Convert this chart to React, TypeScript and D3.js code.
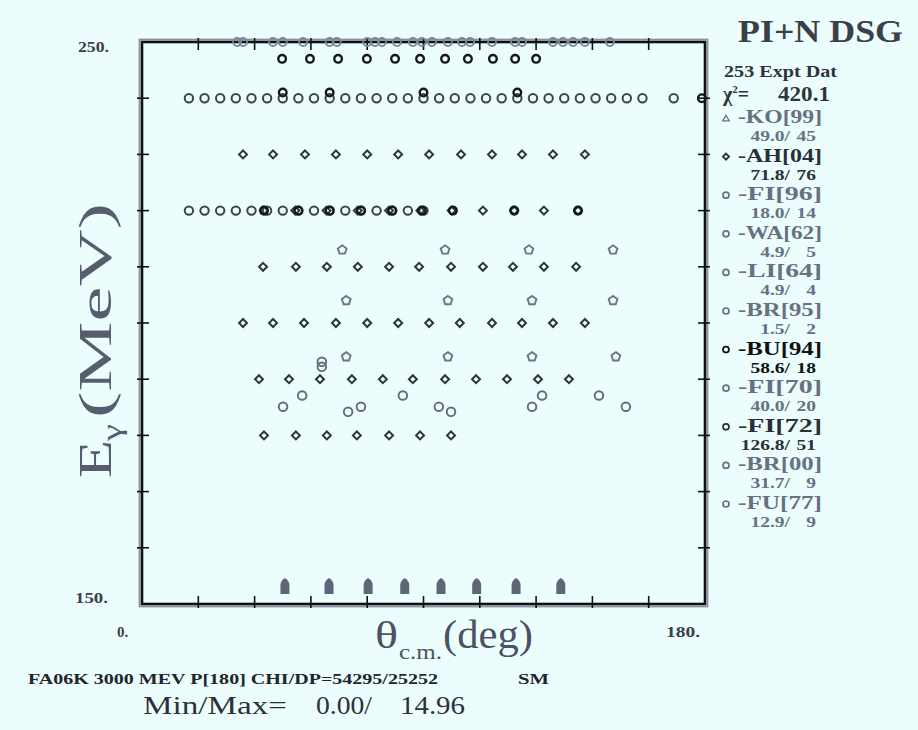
import React from "react";
import * as d3 from "d3";

const W = 918;
const H = 730;

// ---- data: [angle (deg), energy (MeV)] ----
const topRowAngles = [30.4, 32.3, 41.9, 45.0, 51.5, 60.0, 62.3, 72.0, 74.5, 76.7, 81.5, 86.6, 89.5, 92.7, 97.8, 102.3, 104.9, 111.9, 119.3, 121.5, 131.4, 134.6, 137.8, 141.6, 149.6];
const topRowEnergy = 250;

const bu94: [number, number][] = [
  [44.8, 247], [53.7, 247], [62.7, 247], [71.9, 247], [80.9, 247], [88.9, 247], [96.9, 247], [104.2, 247], [112.2, 247], [119.3, 247], [126.0, 247],
  [45, 241], [60, 241], [90, 241], [120, 241],
  [179, 240],
  [39, 220], [50, 220], [60, 220], [70, 220], [80, 220], [89.5, 220], [99.4, 220], [119, 220], [139.4, 220],
];

const fi72: [number, number][] = [
  [15, 240], [20, 240], [25, 240], [30, 240], [35, 240], [40, 240], [45, 240], [50, 240], [55, 240], [60, 240], [65, 240], [70, 240], [75, 240], [80, 240], [85, 240], [90, 240],
  [95, 240], [100, 240], [105, 240], [110, 240], [115, 240], [120, 240], [125, 240], [130, 240], [135, 240], [140, 240], [145, 240], [150, 240], [155, 240], [160, 240], [170, 240],
  [15, 220], [20, 220], [25, 220], [30, 220], [35, 220], [40, 220], [45, 220], [50, 220], [55, 220], [60, 220], [65, 220], [70, 220], [75, 220], [80, 220], [85, 220], [90, 220],
];

const ah04: [number, number][] = [
  [32.3, 230], [41.9, 230], [52.1, 230], [62.0, 230], [72.0, 230], [81.9, 230], [91.8, 230], [102.0, 230], [111.9, 230], [121.5, 230], [131.4, 230], [141.6, 230],
  [39, 220], [49, 220], [59, 220], [69, 220], [79, 220], [89, 220], [99, 220], [109, 220], [119, 220], [128.5, 220], [139.4, 220],
  [38.7, 210], [49.2, 210], [59.1, 210], [69.0, 210], [79.0, 210], [88.6, 210], [98.8, 210], [109.0, 210], [118.6, 210], [128.5, 210], [138.8, 210],
  [32.3, 200], [41.9, 200], [51.8, 200], [62.0, 200], [72.0, 200], [81.9, 200], [91.8, 200], [101.6, 200], [111.9, 200], [121.5, 200], [131.4, 200], [141.6, 200],
  [37.4, 190], [47.0, 190], [56.9, 190], [67.1, 190], [77.0, 190], [86.6, 190], [96.9, 190], [106.8, 190], [116.7, 190], [126.6, 190], [136.5, 190],
  [39.0, 180], [49.2, 180], [59.1, 180], [68.7, 180], [79.0, 180], [88.9, 180], [98.8, 180],
];

const waLiBr: [number, number][] = [
  [64.0, 213], [96.9, 213], [123.7, 213], [150.6, 213],
  [65.3, 204], [97.8, 204], [124.7, 204], [150.6, 204],
  [65.3, 194], [97.8, 194], [124.7, 194], [151.5, 194],
];

const fiBrFu: [number, number][] = [
  [57.5, 193.1], [57.5, 192.2], [51.2, 187.1], [45.1, 185.1], [65.9, 184.2], [70.0, 185.1], [83.4, 187.1],
  [94.9, 185.1], [98.8, 184.2], [127.9, 187.1], [124.7, 185.1], [146.1, 187.1], [154.7, 185.1],
];

const arrowAngles = [45.7, 59.8, 72.3, 84.0, 95.6, 107.0, 119.6, 133.9];

const legendNames = ["-KO[99]", "-AH[04]", "-FI[96]", "-WA[62]", "-LI[64]", "-BR[95]", "-BU[94]", "-FI[70]", "-FI[72]", "-BR[00]", "-FU[77]"];
const legendChi = ["49.0/", "71.8/", "18.0/", "4.9/", "4.9/", "1.5/", "58.6/", "40.0/", "126.8/", "31.7/", "12.9/"];
const legendCount = ["45", "76", "14", "5", "4", "2", "18", "20", "51", "9", "9"];
const legendSymbol = ["triangle", "diamond", "circle", "circle", "circle", "circle", "circle", "circle", "circle", "circle", "circle"];
const legendDark = [false, true, false, false, false, false, true, false, true, false, false];

const GRAY = "#687082";
const DARK = "#2b2f38";
const BG = "#ecfdfd";
const FONT = "'Liberation Serif', 'DejaVu Serif', serif";

const x = d3.scaleLinear().domain([0, 180]).range([142, 705]);
const y = d3.scaleLinear().domain([150, 250]).range([604, 42]);

const xTicks = d3.range(18, 180, 18);
const yTicks = d3.range(160, 250, 10);

const pentagon = (r: number) => {
  const pts = d3.range(5).map((i) => {
    const a = -Math.PI / 2 + (i * 2 * Math.PI) / 5;
    return [r * Math.cos(a), r * Math.sin(a)] as [number, number];
  });
  return d3.line().curve(d3.curveLinearClosed)(pts) || "";
};

const diamondPath = d3.symbol().type(d3.symbolDiamond2).size(40)() || "";
const legendDiamond = d3.symbol().type(d3.symbolDiamond2).size(24)() || "";
const trianglePath = d3.symbol().type(d3.symbolTriangle).size(18)() || "";

export default function App() {
  const legendY0 = 123;
  const legendStep = 38.6;
  return (
    <svg width={W} height={H} style={{ position: "absolute", left: 0, top: 0 }} fontFamily={FONT}>
      <rect x={0} y={0} width={W} height={H} fill={BG} />

      {/* frame */}
      <rect x={139.5} y={39.5} width={568} height={567} fill="none" stroke="#8a93a6" strokeWidth={1.8} />
      <rect x={142} y={42} width={563} height={562} fill="none" stroke="#111" strokeWidth={2.6} />

      {/* ticks */}
      {xTicks.map((t) => (
        <g key={"xt" + t} stroke="#111" strokeWidth={1.6}>
          <line x1={x(t)} x2={x(t)} y1={596} y2={608} />
          <line x1={x(t)} x2={x(t)} y1={38} y2={50} />
        </g>
      ))}
      {yTicks.map((t) => (
        <g key={"yt" + t} stroke="#111" strokeWidth={1.6}>
          <line x1={137} x2={149} y1={y(t)} y2={y(t)} />
          <line x1={698} x2={710} y1={y(t)} y2={y(t)} />
        </g>
      ))}

      {/* axis labels */}
      <text x={78} y={52} fontSize={15} fontWeight="bold" fill="#3a3f4a" textLength={31} lengthAdjust="spacingAndGlyphs">250.</text>
      <text x={75} y={603} fontSize={15} fontWeight="bold" fill="#3a3f4a" textLength={33} lengthAdjust="spacingAndGlyphs">150.</text>
      <text x={117} y={637} fontSize={15} fontWeight="bold" fill="#3a3f4a">0.</text>
      <text x={666} y={637} fontSize={15} fontWeight="bold" fill="#3a3f4a" textLength={34} lengthAdjust="spacingAndGlyphs">180.</text>

      {/* top row gray circles */}
      {topRowAngles.map((a, i) => (
        <circle key={"tr" + i} cx={x(a)} cy={y(topRowEnergy)} r={4} fill="none" stroke="#7d8599" strokeWidth={1.8} />
      ))}

      {/* FI[72] style circles */}
      {fi72.map(([a, e], i) => (
        <circle key={"f72" + i} cx={x(a)} cy={y(e)} r={4.2} fill="none" stroke="#3c414c" strokeWidth={2} />
      ))}

      {/* AH[04] diamonds */}
      {ah04.map(([a, e], i) => (
        <path key={"ah" + i} d={diamondPath} transform={`translate(${x(a)},${y(e)})`} fill="none" stroke="#30343d" strokeWidth={2} />
      ))}

      {/* BU[94] bold circles */}
      {bu94.map(([a, e], i) => (
        <circle key={"bu" + i} cx={x(a)} cy={y(e)} r={3.8} fill="none" stroke="#15171c" strokeWidth={2.4} />
      ))}

      {/* pentagon-like circles */}
      {waLiBr.map(([a, e], i) => (
        <path key={"wa" + i} d={pentagon(4.6)} transform={`translate(${x(a)},${y(e)})`} fill="none" stroke="#6d7486" strokeWidth={1.9} />
      ))}

      {/* scattered circles */}
      {fiBrFu.map(([a, e], i) => (
        <circle key={"fb" + i} cx={x(a)} cy={y(e)} r={4.3} fill="none" stroke="#646b7d" strokeWidth={1.9} />
      ))}

      {/* markers along the bottom */}
      {arrowAngles.map((a, i) => (
        <path
          key={"ar" + i}
          d="M-4.5,0 L-4.5,-9 Q-4.5,-13 0,-16 Q4.5,-13 4.5,-9 L4.5,0 Z"
          transform={`translate(${x(a)},${y(150) - 10})`}
          fill="#5f6677"
        />
      ))}

      {/* axis titles */}
      <g fill="#565d6e">
        <text transform="translate(111,478) rotate(-90)" fontSize={46} textLength={38} lengthAdjust="spacingAndGlyphs">E</text>
        <text transform="translate(121,441) rotate(-90)" fontSize={28} textLength={17} lengthAdjust="spacingAndGlyphs">γ</text>
        <text transform="translate(111,418) rotate(-90)" fontSize={46} textLength={215} lengthAdjust="spacingAndGlyphs">(MeV)</text>
      </g>
      <g fill="#4c5263">
        <text x={375} y={648} fontSize={38} textLength={23} lengthAdjust="spacingAndGlyphs">θ</text>
        <text x={399} y={659} fontSize={20} textLength={43} lengthAdjust="spacingAndGlyphs">c.m.</text>
        <text x={443} y={648} fontSize={40} textLength={90} lengthAdjust="spacingAndGlyphs">(deg)</text>
      </g>

      {/* title block */}
      <text x={738} y={42} fontSize={31} fontWeight="bold" fill="#3a3f4a" textLength={165} lengthAdjust="spacingAndGlyphs">PI+N DSG</text>
      <text x={724} y={77} fontSize={16} fontWeight="bold" fill="#2f333c" textLength={113} lengthAdjust="spacingAndGlyphs">253 Expt Dat</text>
      <text x={723} y={101} fontSize={20} fontWeight="bold" fill="#2f333c">
        χ<tspan dy={-8} fontSize={11}>2</tspan>
        <tspan dy={8}>=</tspan>
      </text>
      <text x={830} y={101} fontSize={20} fontWeight="bold" fill="#2f333c" textAnchor="end" textLength={52} lengthAdjust="spacingAndGlyphs">420.1</text>

      {legendNames.map((name, i) => {
        const by = legendY0 + i * legendStep;
        const col = legendDark[i] ? (name === "-BU[94]" ? "#111" : DARK) : GRAY;
        const sym = legendSymbol[i];
        return (
          <g key={"lg" + i}>
            {sym === "triangle" && <path d={trianglePath} transform={`translate(726,${by - 4})`} fill="none" stroke={col} strokeWidth={1.3} />}
            {sym === "diamond" && <path d={legendDiamond} transform={`translate(726,${by - 5})`} fill="none" stroke={col} strokeWidth={1.8} />}
            {sym === "circle" && <circle cx={726} cy={by - 5} r={3} fill="none" stroke={col} strokeWidth={1.7} />}
            <text x={738} y={by} fontSize={18} fill={col} fontWeight="bold" textLength={84} lengthAdjust="spacingAndGlyphs">{name}</text>
            <text transform={`translate(790,${by + 18}) scale(1.3,1)`} fontSize={15} fontWeight="bold" fill={col} textAnchor="end">{legendChi[i]}</text>
            <text transform={`translate(816,${by + 18}) scale(1.3,1)`} fontSize={15} fontWeight="bold" fill={col} textAnchor="end">{legendCount[i]}</text>
          </g>
        );
      })}

      {/* footer */}
      <text x={28} y={684} fontSize={15} fontWeight="bold" fill="#22252c" textLength={410} lengthAdjust="spacingAndGlyphs">FA06K 3000 MEV P[180] CHI/DP=54295/25252</text>
      <text x={518} y={684} fontSize={15} fontWeight="bold" fill="#22252c" textLength={31} lengthAdjust="spacingAndGlyphs">SM</text>
      <text x={143} y={714} fontSize={26} fill="#2c3038" textLength={144} lengthAdjust="spacingAndGlyphs">Min/Max=</text>
      <text x={316} y={714} fontSize={26} fill="#2c3038" textLength={56} lengthAdjust="spacingAndGlyphs">0.00/</text>
      <text x={400} y={714} fontSize={26} fill="#2c3038" textLength={65} lengthAdjust="spacingAndGlyphs">14.96</text>
    </svg>
  );
}
